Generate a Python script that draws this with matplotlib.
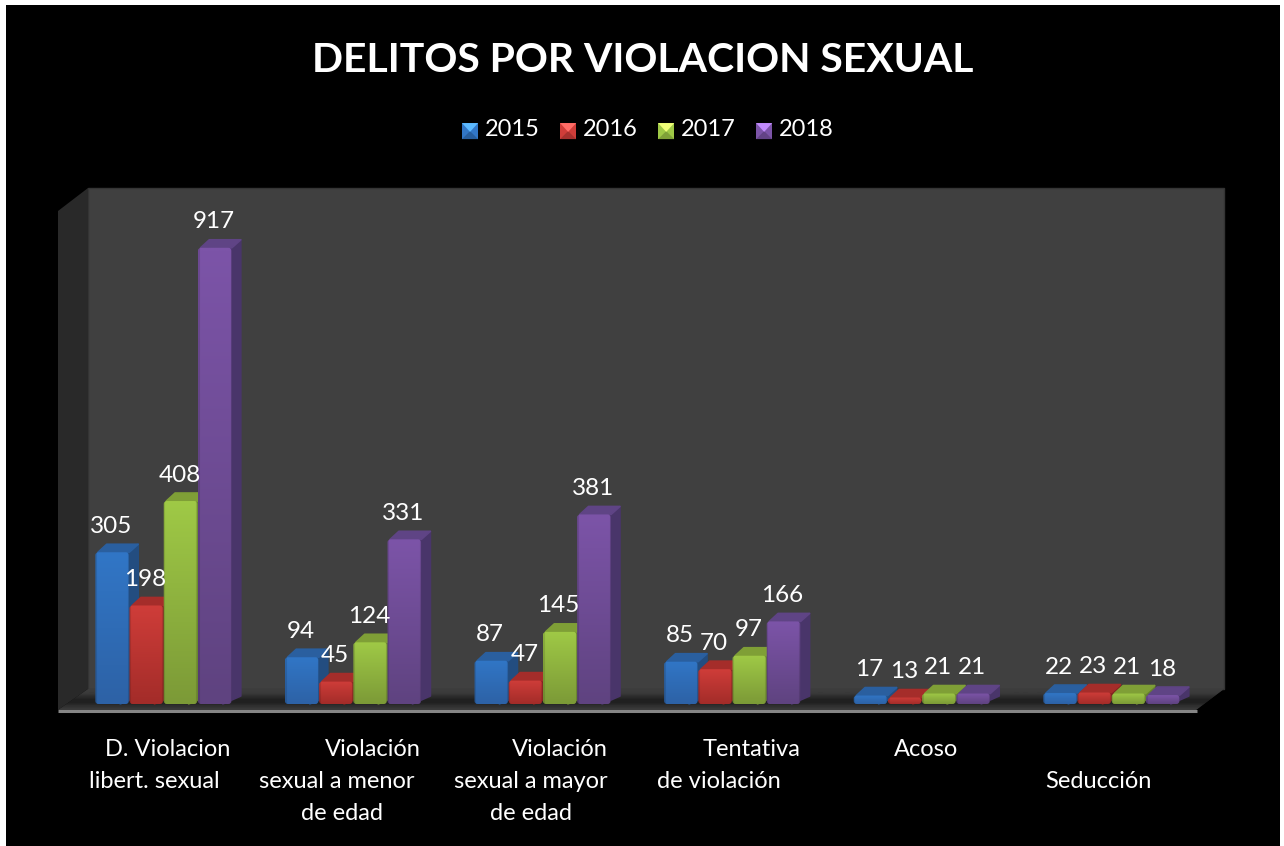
import matplotlib
matplotlib.use('Agg')
import matplotlib.pyplot as plt
import numpy as np
from matplotlib.colors import to_rgb
from matplotlib.legend_handler import HandlerBase
from matplotlib.patches import FancyBboxPatch, Patch, Polygon, Rectangle

title = 'DELITOS POR VIOLACION SEXUAL'
years = ['2015', '2016', '2017', '2018']
categories = ['D. Violacion\nlibert. sexual', 'Violación\nsexual a menor\nde edad',
              'Violación\nsexual a mayor\nde edad', 'Tentativa\nde violación', 'Acoso', '\nSeducción']
values_2015 = [305, 94, 87, 85, 17, 22]
values_2016 = [198, 45, 47, 70, 13, 23]
values_2017 = [408, 124, 145, 97, 21, 21]
values_2018 = [917, 331, 381, 166, 21, 18]
series = [values_2015, values_2016, values_2017, values_2018]

# pixel centres of each line of the category labels, they are not aligned in the original
label_x = [[168, 154], [373, 337, 342], [560, 531, 531], [752, 719], [926], [0, 1098]]
label_y = [749, 781, 813]

# top of bar, bottom of bar, side face, top face
palette = [('#3176c6', '#2d62a6', '#234d80', '#2a5f9f'),
           ('#cf3d39', '#a32c29', '#7f2320', '#a52d2a'),
           ('#9fc946', '#7c9a37', '#668030', '#7f9f36'),
           ('#7c54a8', '#5f4380', '#49356a', '#5f4485')]

W, H = 1284, 846
PX_PER_UNIT = 0.4975
BASE_PY = 704
GROUP_PX = 189.6
FIRST_PX = 95
BAR_PX = 34.2
DEPTH_X, DEPTH_Y = 9, 8


def gradient(c_top, c_bottom):
    # vertical shading plus a slight bevel on both sides of the bar
    t = np.linspace(0, 1, 64)[:, None, None]
    rgb = (1 - t) * np.array(to_rgb(c_top)) + t * np.array(to_rgb(c_bottom))
    rgb = np.repeat(rgb, 34, axis=1)
    rgb[:, :2] *= 0.88
    rgb[:, -2:] *= 0.88
    return np.clip(rgb, 0, 1)


class PyramidHandler(HandlerBase):
    def create_artists(self, legend, orig, xd, yd, w, h, fontsize, trans):
        c = to_rgb(orig.get_facecolor())
        light = tuple(min(1, v * 1.35 + 0.1) for v in c)
        dark = tuple(v * 0.8 for v in c)
        y0 = -yd - 2
        base = Rectangle((xd, y0), w, w, fc=c, ec='none', transform=trans)
        low = Polygon([(xd, y0), (xd + w, y0), (xd + w / 2, y0 + w / 2)], fc=dark, ec='none', transform=trans)
        top = Polygon([(xd, y0 + w), (xd + w, y0 + w), (xd + w / 2, y0 + w * 0.45)], fc=light, ec='none', transform=trans)
        return [base, low, top]


plt.rcParams['font.family'] = 'Lato'
fig = plt.figure(figsize=(W / 100, H / 100), dpi=100, facecolor='white')

# frame and walls in pixels
bg = fig.add_axes([0, 0, 1, 1])
bg.axis('off')
bg.add_patch(Rectangle((6, 5), 1274, 841, fc='black', ec='none'))
bg.add_patch(Rectangle((88, 188), 1136, 501, fc='#404040', ec='#343434', lw=1))
bg.add_patch(Polygon([(58, 211), (88, 188), (88, 689), (58, 710)], fc='#292929', ec='none'))
floor = Polygon([(58, 710), (88, 689), (1224, 689), (1196, 710)], fc='#222222', ec='none')
bg.add_patch(floor)
shade = np.array([0.24, 0.22, 0.17, 0.13, 0.13, 0.18, 0.22])[:, None]
im = bg.imshow(shade, extent=(58, 1224, 710, 689), cmap='gray', vmin=0, vmax=1, aspect='auto',
               interpolation='bilinear', zorder=1.5)
im.set_clip_path(floor)
bg.plot([58, 1197], [711, 711], color='#858585', lw=2.2, solid_capstyle='butt')
bg.set_xlim(0, W)
bg.set_ylim(H, 0)

# bars: x axis in groups, y axis in cases
ax = fig.add_axes([0, 0, 1, 1])
ax.patch.set_alpha(0)
ax.axis('off')
bar_w = BAR_PX / GROUP_PX
dx = DEPTH_X / GROUP_PX
dy = DEPTH_Y / PX_PER_UNIT
groups = np.arange(len(categories))

for j, vals in enumerate(series):
    c_top, c_bottom, c_side, c_lid = palette[j]
    xs = groups + j * bar_w + bar_w / 2
    bars = ax.bar(xs, vals, width=bar_w * 0.98, color='none', zorder=3 + j)
    for b, x, v in zip(bars, xs, vals):
        x0, x1 = x - bar_w / 2, x + bar_w / 2
        ax.fill([x1 - dx, x1 + dx, x1 + dx, x1 - dx], [0, dy, v + dy, v], color=c_side, lw=1.2, joinstyle='round', zorder=3 + j)
        ax.fill([x0 + dx / 3, x0 + dx * 1.3, x1 + dx, x1], [v, v + dy, v + dy, v], color=c_lid, lw=1.2, joinstyle='round', zorder=3 + j)
        face = FancyBboxPatch((b.get_x(), 0), b.get_width(), v, boxstyle='round,pad=0,rounding_size=%f' % (3 / GROUP_PX),
                              mutation_aspect=GROUP_PX / PX_PER_UNIT, fc='none', ec='none', zorder=3 + j)
        ax.add_patch(face)
        im = ax.imshow(gradient(c_top, c_bottom), extent=(x0, x1, 0, v), aspect='auto', zorder=3.5 + j, interpolation='bilinear')
        im.set_clip_path(face)
        ax.annotate(str(v), (x, v), xytext=(-1 * 0.72, 26 * 0.72), textcoords='offset points',
                    ha='center', va='center', color='white', fontsize=17.5, zorder=20)

ax.set_xlim(-FIRST_PX / GROUP_PX, (W - FIRST_PX) / GROUP_PX)
ax.set_ylim(-(H - BASE_PY) / PX_PER_UNIT, BASE_PY / PX_PER_UNIT)

for cat, xs in zip(categories, label_x):
    for line, px, py in zip(cat.split('\n'), xs, label_y):
        if line:
            bg.text(px, py, line, color='white', fontsize=17, ha='center', va='center')

fig.text(643 / W, 1 - 60 / H, title, color='white', fontsize=29.4, fontweight='bold', ha='center', va='center')

handles = [Patch(facecolor=p[0], label=y) for p, y in zip(palette, years)]
fig.legend(handles=handles, loc='center', bbox_to_anchor=(648 / W, 1 - 130 / H), ncol=4, frameon=False,
           fontsize=17, labelcolor='white', handler_map={Patch: PyramidHandler()},
           handlelength=0.68, handleheight=0.68, handletextpad=0.3, columnspacing=0.85)

fig.savefig('out.png', dpi=100, facecolor='white')
